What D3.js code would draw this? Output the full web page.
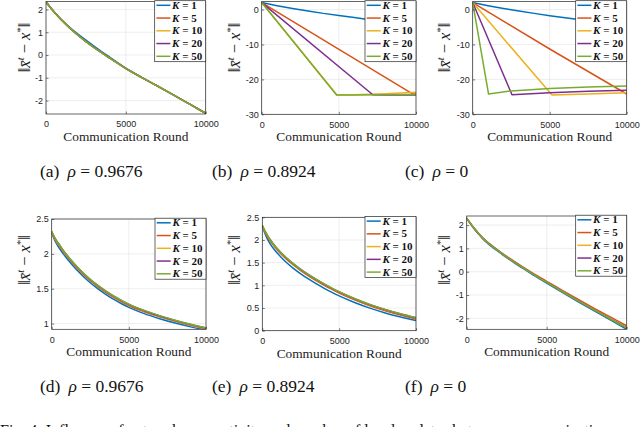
<!DOCTYPE html>
<html><head><meta charset="utf-8">
<script src="https://cdn.jsdelivr.net/npm/d3@7"></script>
<style>body{margin:0;background:#fff}svg{display:block;background:#fff}</style>
</head><body><svg id="c" width="640" height="427"></svg>
<script>
// ---------- data ----------
const rounds = [0,250,500,750,1000,1500,2000,2500,3000,3500,4000,4500,5000,6000,7000,8000,9000,10000];
const kValues = [1,5,10,20,50];
const captionLetters = ["a","b","c","d","e","f"];
const rhoLabels = ["0.9676","0.8924","0","0.9676","0.8924","0"];
const xTicks = [0,5000,10000];

// (a) rho = 0.9676, top row
const aK1  = [2.33,2.11,1.90,1.71,1.53,1.21,0.92,0.65,0.39,0.14,-0.10,-0.34,-0.58,-0.98,-1.37,-1.76,-2.16,-2.56];
const aK5  = [2.33,2.11,1.90,1.70,1.52,1.18,0.88,0.60,0.34,0.10,-0.13,-0.36,-0.59,-0.99,-1.37,-1.76,-2.16,-2.56];
const aK10 = [2.33,2.11,1.90,1.70,1.52,1.18,0.87,0.59,0.33,0.09,-0.14,-0.37,-0.60,-0.99,-1.37,-1.76,-2.16,-2.56];
const aK20 = [2.33,2.11,1.90,1.70,1.52,1.18,0.87,0.59,0.33,0.09,-0.14,-0.37,-0.60,-0.99,-1.37,-1.76,-2.16,-2.56];
const aK50 = [2.33,2.11,1.90,1.70,1.52,1.18,0.87,0.59,0.33,0.09,-0.14,-0.37,-0.60,-0.99,-1.37,-1.76,-2.16,-2.56];

// (b) rho = 0.8924, top row (piecewise)
const bK1x  = [0,1000,2000,3000,4000,5000,6000,7000,8000,9000,10000];
const bK1y  = [2,1.1,0.3,-0.4,-1.1,-1.7,-2.3,-2.9,-3.4,-3.9,-4.4];
const bK5x  = [0,9750,10000];
const bK5y  = [2,-24.1,-24.2];
const bK10x = [0,4880,6000,8000,10000];
const bK10y = [2,-24.5,-24.4,-24.1,-23.7];
const bK20x = [0,7200,8000,10000];
const bK20y = [2,-24.4,-24.5,-24.5];
const bK50x = [0,4850,6000,8000,10000];
const bK50y = [2,-24.5,-24.5,-24.4,-24.3];

// (c) rho = 0, top row (piecewise)
const cK1x  = [0,1000,2000,3000,4000,5000,6000,7000,8000,9000,10000];
const cK1y  = [2,1.1,0.3,-0.4,-1.1,-1.75,-2.35,-2.95,-3.5,-4.0,-4.5];
const cK5x  = [0,5000,10000];
const cK5y  = [2,-11.3,-24.2];
const cK10x = [0,5150,7500,10000];
const cK10y = [2,-24.5,-24.2,-23.8];
const cK20x = [0,2550,5000,7500,10000];
const cK20y = [2,-24.4,-23.8,-23.4,-23.1];
const cK50x = [0,1030,2500,5000,7500,10000];
const cK50y = [2,-24.2,-23.3,-22.6,-22.2,-21.9];

// (d) rho = 0.9676, bottom row
const dK1  = [2.30,2.17,2.08,2.00,1.93,1.80,1.685,1.585,1.497,1.42,1.35,1.288,1.232,1.143,1.07,1.007,0.953,0.905];
const dK5  = [2.31,2.19,2.11,2.03,1.96,1.83,1.715,1.615,1.527,1.449,1.379,1.316,1.259,1.17,1.096,1.032,0.975,0.925];
const dK10 = [2.32,2.20,2.12,2.04,1.97,1.842,1.727,1.627,1.539,1.461,1.391,1.328,1.271,1.181,1.106,1.041,0.983,0.932];
const dK20 = [2.32,2.21,2.13,2.05,1.976,1.846,1.731,1.631,1.543,1.465,1.395,1.332,1.275,1.185,1.11,1.045,0.987,0.935];
const dK50 = [2.32,2.21,2.13,2.05,1.98,1.85,1.735,1.635,1.547,1.469,1.399,1.336,1.279,1.189,1.114,1.049,0.991,0.939];

// (e) rho = 0.8924, bottom row
const eK1  = [2.30,2.08,1.92,1.80,1.70,1.525,1.38,1.255,1.14,1.037,0.94,0.85,0.767,0.622,0.497,0.392,0.302,0.222];
const eK5  = [2.31,2.12,1.98,1.87,1.77,1.60,1.455,1.325,1.21,1.105,1.007,0.915,0.83,0.68,0.55,0.44,0.345,0.26];
const eK10 = [2.32,2.14,2.00,1.89,1.79,1.62,1.475,1.345,1.23,1.125,1.027,0.935,0.85,0.70,0.57,0.46,0.365,0.28];
const eK20 = [2.32,2.15,2.01,1.90,1.795,1.625,1.48,1.35,1.235,1.13,1.032,0.94,0.855,0.705,0.575,0.465,0.37,0.285];
const eK50 = [2.32,2.15,2.01,1.90,1.80,1.63,1.485,1.355,1.24,1.135,1.037,0.945,0.86,0.71,0.58,0.47,0.375,0.29];

// (f) rho = 0, bottom row
const fK1  = [2.30,2.04,1.81,1.61,1.42,1.11,0.85,0.60,0.37,0.15,-0.07,-0.28,-0.49,-0.90,-1.30,-1.69,-2.08,-2.47];
const fK5  = [2.30,2.06,1.84,1.64,1.46,1.16,0.90,0.66,0.43,0.21,-0.005,-0.21,-0.41,-0.81,-1.20,-1.58,-1.95,-2.32];
const fK10 = [2.30,2.05,1.83,1.63,1.44,1.14,0.88,0.63,0.40,0.18,-0.04,-0.25,-0.45,-0.86,-1.26,-1.65,-2.03,-2.41];
const fK20 = [2.30,2.05,1.83,1.63,1.44,1.14,0.88,0.63,0.40,0.18,-0.04,-0.25,-0.45,-0.86,-1.26,-1.65,-2.03,-2.41];
const fK50 = [2.30,2.05,1.83,1.63,1.44,1.14,0.88,0.63,0.40,0.18,-0.04,-0.25,-0.45,-0.86,-1.26,-1.65,-2.03,-2.41];

const yTicksA = [-2,-1,0,1,2];
const yTicksBC = [-30,-20,-10,0];
const yTicksD = [1,1.5,2,2.5];
const yTicksE = [0,0.5,1,1.5,2,2.5];
const yTicksF = [-2,-1,0,1,2];

// ---------- styles / layout ----------
const palette = ["#0072BD","#D95319","#EDB120","#7E2F8E","#77AC30"];
const axisColor = "#262626";
const serif = "'Liberation Serif', 'DejaVu Serif', 'Times New Roman', serif";
const zip = (xs, ys) => xs.map((x,i)=>({x, y: ys[i]}));

const panels = [
  {x0:46,    x1:205.7, y0:1.5, y1:114,   dom:[-2.59,2.35], ticks:yTicksA,  curve:d3.curveMonotoneX,
   series:[zip(rounds,aK1),zip(rounds,aK5),zip(rounds,aK10),zip(rounds,aK20),zip(rounds,aK50)],
   capX:40, capY:176.5, ylabX:30, ylabY:47.5},
  {x0:261.7, x1:416,   y0:1.5, y1:114.3, dom:[-30,2.3],    ticks:yTicksBC, curve:d3.curveLinear,
   series:[zip(bK1x,bK1y),zip(bK5x,bK5y),zip(bK10x,bK10y),zip(bK20x,bK20y),zip(bK50x,bK50y)],
   capX:212, capY:176.5, ylabX:240, ylabY:47.5},
  {x0:472.7, x1:626.7, y0:1.5, y1:114.3, dom:[-30,2.3],    ticks:yTicksBC, curve:d3.curveLinear,
   series:[zip(cK1x,cK1y),zip(cK5x,cK5y),zip(cK10x,cK10y),zip(cK20x,cK20y),zip(cK50x,cK50y)],
   capX:405, capY:176.5, ylabX:450, ylabY:47.5},
  {x0:51.7,  x1:206,   y0:219, y1:329.3, dom:[0.918,2.5],  ticks:yTicksD,  curve:d3.curveMonotoneX,
   series:[zip(rounds,dK1),zip(rounds,dK5),zip(rounds,dK10),zip(rounds,dK20),zip(rounds,dK50)],
   capX:40, capY:392, ylabX:30, ylabY:260},
  {x0:262.3, x1:416,   y0:217.3, y1:330.7, dom:[0,2.5],    ticks:yTicksE,  curve:d3.curveMonotoneX,
   series:[zip(rounds,eK1),zip(rounds,eK5),zip(rounds,eK10),zip(rounds,eK20),zip(rounds,eK50)],
   capX:212, capY:392, ylabX:240, ylabY:260},
  {x0:466.7, x1:626.7, y0:216, y1:329.3, dom:[-2.47,2.39], ticks:yTicksF,  curve:d3.curveMonotoneX,
   series:[zip(rounds,fK1),zip(rounds,fK5),zip(rounds,fK10),zip(rounds,fK20),zip(rounds,fK50)],
   capX:405, capY:392, ylabX:450, ylabY:260}
];

const svg = d3.select("#c");
svg.append("rect").attr("width",640).attr("height",427).attr("fill","#fff");
const defs = svg.append("defs");

panels.forEach((p, pi) => {
  const x = d3.scaleLinear().domain([0,10000]).range([p.x0, p.x1]);
  const y = d3.scaleLinear().domain(p.dom).range([p.y1, p.y0]);
  const g = svg.append("g");

  // grid
  g.append("g").selectAll("line").data(xTicks).join("line")
    .attr("x1", d=>x(d)).attr("x2", d=>x(d)).attr("y1", p.y0).attr("y2", p.y1)
    .attr("stroke", "#e3e3e3").attr("stroke-width", 0.6);
  g.append("g").selectAll("line").data(p.ticks).join("line")
    .attr("y1", d=>y(d)).attr("y2", d=>y(d)).attr("x1", p.x0).attr("x2", p.x1)
    .attr("stroke", "#e3e3e3").attr("stroke-width", 0.6);

  // clip
  const cid = "clip" + pi;
  defs.append("clipPath").attr("id", cid).append("rect")
    .attr("x", p.x0).attr("y", p.y0).attr("width", p.x1-p.x0).attr("height", p.y1-p.y0);

  const line = d3.line().x(d=>x(d.x)).y(d=>y(d.y)).curve(p.curve);
  const lg = g.append("g").attr("clip-path", `url(#${cid})`);
  p.series.forEach((s, si) => {
    lg.append("path").attr("d", line(s)).attr("fill","none")
      .attr("stroke", palette[si]).attr("stroke-width", 1.5)
      .attr("stroke-linejoin","round");
  });

  // axes
  const xa = g.append("g").attr("transform", `translate(0,${p.y1})`)
    .call(d3.axisBottom(x).tickValues(xTicks).tickSize(-2.5).tickPadding(7).tickFormat(d3.format("d")));
  const ya = g.append("g").attr("transform", `translate(${p.x0},0)`)
    .call(d3.axisLeft(y).tickValues(p.ticks).tickSize(-2.5).tickPadding(3).tickFormat(d => String(d)));
  [xa, ya].forEach(a => {
    a.select(".domain").remove();
    a.selectAll("line").attr("stroke", axisColor).attr("stroke-width", 0.6);
    a.selectAll("text").attr("fill", axisColor).attr("font-family", "'Liberation Sans', Arial, sans-serif")
      .attr("font-size", 9);
  });

  // box
  g.append("rect").attr("x", p.x0).attr("y", p.y0).attr("width", p.x1-p.x0).attr("height", p.y1-p.y0)
    .attr("fill", "none").attr("stroke", axisColor).attr("stroke-width", 0.7);

  // legend
  const lw = 51, lh = 61;
  const lx = p.x1 - lw, ly = p.y0 - 0.8;
  const leg = g.append("g");
  leg.append("rect").attr("x", lx).attr("y", ly).attr("width", lw).attr("height", lh)
    .attr("fill", "#fff").attr("stroke", axisColor).attr("stroke-width", 0.7);
  kValues.forEach((k, i) => {
    const cy = ly + 4.6 + i * 12.75;
    leg.append("line").attr("x1", lx+1.7).attr("x2", lx+15.7).attr("y1", cy).attr("y2", cy)
      .attr("stroke", palette[i]).attr("stroke-width", 1.5);
    const t = leg.append("text").attr("x", lx+17.4).attr("y", cy+3.6)
      .attr("font-family", serif).attr("font-size", 11)
      .attr("font-weight", "bold").attr("fill", "#111");
    t.append("tspan").attr("font-style", "italic").text("K");
    t.append("tspan").text(" = " + k);
  });

  // x label
  g.append("text").attr("x", (p.x0+p.x1)/2).attr("y", p.y1 + 27)
    .attr("text-anchor", "middle").attr("font-family", serif).attr("font-size", 13)
    .attr("textLength", 125).attr("lengthAdjust", "spacingAndGlyphs")
    .attr("fill", "#1a1a1a").text("Communication Round");

  // y label
  const yl = g.append("text").attr("transform", `translate(${p.ylabX},${p.ylabY}) rotate(-90)`)
    .attr("text-anchor", "middle").attr("font-family", serif).attr("font-size", 16.5)
    .attr("fill", "#1a1a1a");
  yl.append("tspan").text("\u2016");
  yl.append("tspan").attr("font-style","italic").text("x\u0304");
  yl.append("tspan").attr("font-size", 10.5).attr("dy", -6).attr("font-style","italic").text("t");
  yl.append("tspan").attr("dy", 6).text(" \u2212 ");
  yl.append("tspan").attr("font-style","italic").text("x");
  yl.append("tspan").attr("font-size", 10.5).attr("dy", -6).text("*");
  yl.append("tspan").attr("dy", 6).text("\u2016");

  // caption
  const cap = svg.append("text").attr("x", p.capX).attr("y", p.capY)
    .attr("font-family", serif).attr("font-size", 17.5).attr("fill", "#111");
  cap.append("tspan").text("(" + captionLetters[pi] + ")");
  cap.append("tspan").attr("dx", 8).attr("font-style", "italic").text("\u03c1");
  cap.append("tspan").text(" = " + rhoLabels[pi]);
});

// figure caption (cut off at bottom edge, as in the reference)
svg.append("text").attr("x", 0).attr("y", 436)
  .attr("font-family", serif).attr("font-size", 16).attr("fill", "#111")
  .text("Fig. 4: Influence of network connectivity and number of local updates between communication rounds.");
</script></body></html>
